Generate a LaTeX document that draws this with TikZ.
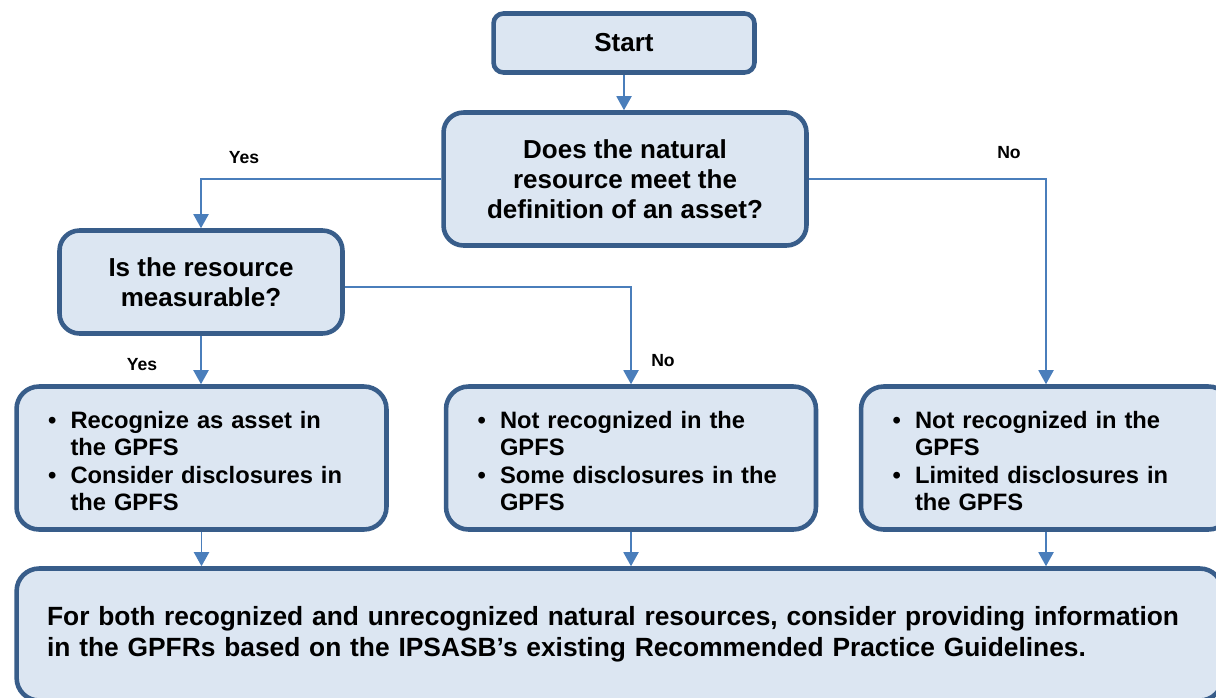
\documentclass[tikz,border=0pt]{standalone}
\usepackage{fontspec}
\setmainfont{Liberation Sans}
\usetikzlibrary{arrows.meta}
\definecolor{boxfill}{HTML}{DCE6F2}
\definecolor{boxline}{HTML}{385D8A}
\definecolor{arrowline}{HTML}{4A7EBB}
\newcommand{\bulletlist}[1]{\raisebox{-0.12cm}[\height][\depth]{\begin{tabular}{@{}p{0.45cm}@{}l@{}}#1\end{tabular}}}

\begin{document}
\begin{tikzpicture}[x=0.02cm, y=-0.02cm]
\useasboundingbox (0,0) rectangle (1216,697);
\clip (0,0) rectangle (1216,697);

% definitions
\tikzstyle{box} = [rectangle, draw=boxline, fill=boxfill, line width=2.6pt]

\tikzstyle{start} = [box, minimum width=5.22cm, minimum height=1.18cm, rounded corners=0.2cm, font=\bfseries\fontsize{14.8}{17}\selectfont]

\tikzstyle{question} = [box, align=center, rounded corners=0.4cm, font=\bfseries\fontsize{14.8}{17}\selectfont]

\tikzstyle{outcome} = [box, minimum height=2.86cm, text width=6.14cm, inner xsep=0.63cm, align=left, rounded corners=0.45cm, font=\bfseries\fontsize{13.5}{15.5}\selectfont]

\tikzstyle{final} = [box, minimum height=2.64cm, text width=22.9cm, inner xsep=0.61cm, align=left, rounded corners=0.45cm, font=\bfseries\fontsize{15}{17.6}\selectfont]

\tikzstyle{answer} = [font=\bfseries\fontsize{10}{12}\selectfont]

\tikzstyle{arrow} = [draw=arrowline, line width=1.1pt, -{Triangle[length=0.28cm, width=0.3cm]}]

% the graph
\node (n0) [start] at (624,43) {Start};

\node (n1) [question, minimum width=7.26cm, minimum height=2.66cm] at (625,179) {Does the natural\\resource meet the\\definition of an asset?};

\node (n2) [question, minimum width=5.66cm, minimum height=2.06cm] at (201,282) {Is the resource\\measurable?};

\node (n3) [outcome] at (201.5,458) {\bulletlist{
\textbullet & Recognize as asset in\\
 & the GPFS\\
\textbullet & Consider disclosures in\\
 & the GPFS}};

\node (n4) [outcome] at (631,458) {\bulletlist{
\textbullet & Not recognized in the\\
 & GPFS\\
\textbullet & Some disclosures in the\\
 & GPFS}};

\node (n5) [outcome] at (1046,458) {\bulletlist{
\textbullet & Not recognized in the\\
 & GPFS\\
\textbullet & Limited disclosures in\\
 & the GPFS}};

\node (n6) [final] at (619.5,634.5) {For both recognized and unrecognized natural resources, consider providing information\\in the GPFRs based on the IPSASB's existing Recommended Practice Guidelines.};

% answers
\node (a1) [answer] at (244,158) {Yes};
\node (a2) [answer] at (1009,153) {No};
\node (a3) [answer] at (142,365) {Yes};
\node (a4) [answer] at (663,361) {No};

\draw [arrow] (n0.south) -- (n0.south |- n1.north);

\draw [arrow] (n1.west) -| (n2.north);
\draw [arrow] (n1.east) -| (n5.north);

\draw [arrow] (n2.south) -- (n2.south |- n3.north);
\draw [arrow] ([yshift=-0.1cm]n2.east) -| (n4.north);

\draw [arrow] (n3.south) -- (n3.south |- n6.north);
\draw [arrow] (n4.south) -- (n4.south |- n6.north);
\draw [arrow] (n5.south) -- (n5.south |- n6.north);

\end{tikzpicture}
\end{document}
